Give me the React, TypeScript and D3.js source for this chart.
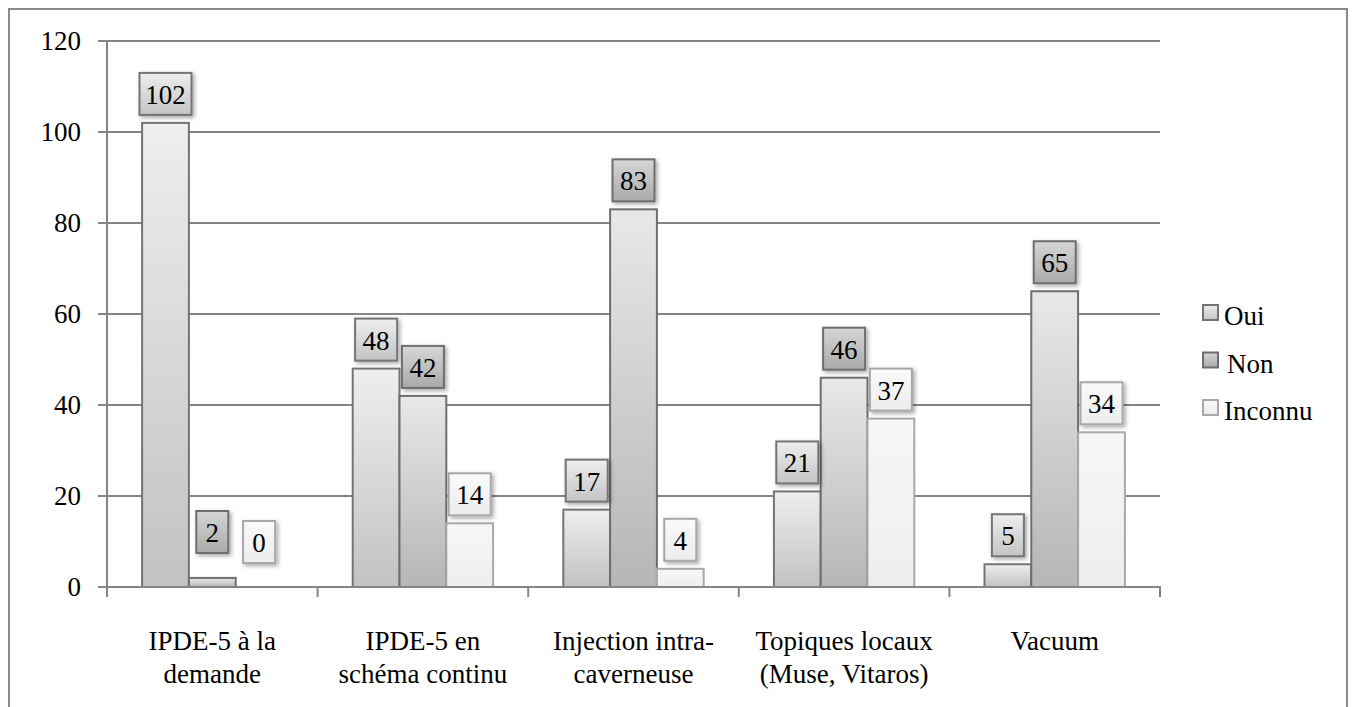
import React from 'react';
import * as d3 from 'd3';

const categories = [
  ['IPDE-5 à la', 'demande'],
  ['IPDE-5 en', 'schéma continu'],
  ['Injection intra-', 'caverneuse'],
  ['Topiques locaux', '(Muse, Vitaros)'],
  ['Vacuum'],
];
const seriesNames = ['Oui', 'Non', 'Inconnu'];
const oui = [102, 48, 17, 21, 5];
const non = [2, 42, 83, 46, 65];
const inconnu = [0, 14, 4, 37, 34];
const yTicks = [0, 20, 40, 60, 80, 100, 120];

const W = 1354;
const H = 707;
const FONT = '"Liberation Serif", "DejaVu Serif", "Noto Serif", Tinos, "Nimbus Roman", "Nimbus Roman No9 L", FreeSerif, Times, "Times New Roman", serif';

// per series: bar gradient, label gradient, stroke
const looks = {
  Oui: { bar: ['#eeeeee', '#c2c2c2'], lab: ['#eeeeee', '#c4c4c4'], stroke: '#747474' },
  Non: { bar: ['#e8e8e8', '#b6b6b6'], lab: ['#d6d6d6', '#a9a9a9'], stroke: '#6e6e6e' },
  Inconnu: { bar: ['#f7f7f7', '#eeeeee'], lab: ['#fbfbfb', '#ececec'], stroke: '#a8a8a8' },
};

export default function App() {
  const values = [oui, non, inconnu];
  const y = d3.scaleLinear().domain([0, 120]).range([587, 41]);
  const x0 = d3.scaleBand<number>().domain(d3.range(categories.length)).range([107, 1160]);
  const x1 = d3.scaleBand<string>().domain(seriesNames).range([0, x0.bandwidth()]).paddingOuter(0.75);
  const bw = x1.bandwidth();
  const txtStyle = { fontFamily: FONT, fontSize: 27 };

  return (
    <svg width={W} height={H} style={{ position: 'absolute', left: 0, top: 0, background: '#fff' }}>
      <defs>
        {seriesNames.map((s, i) => (
          <React.Fragment key={s}>
            <linearGradient id={'bar' + i} x1="0" y1="0" x2="0" y2="1">
              <stop offset="0" stopColor={looks[s].bar[0]} />
              <stop offset="1" stopColor={looks[s].bar[1]} />
            </linearGradient>
            <linearGradient id={'lab' + i} x1="0" y1="0" x2="0" y2="1">
              <stop offset="0" stopColor={looks[s].lab[0]} />
              <stop offset="1" stopColor={looks[s].lab[1]} />
            </linearGradient>
          </React.Fragment>
        ))}
        <filter id="shadow" x="-30%" y="-30%" width="160%" height="160%">
          <feDropShadow dx="2" dy="2" stdDeviation="2" floodColor="#000" floodOpacity="0.35" />
        </filter>
      </defs>

      <rect x={9} y={9} width={1338} height={720} fill="none" stroke="#8a8a8a" strokeWidth={2} />

      {/* gridlines + y ticks */}
      {yTicks.map(t => (
        <g key={t}>
          {t > 0 && <line x1={107} x2={1160} y1={y(t)} y2={y(t)} stroke="#858585" strokeWidth={2} />}
          <line x1={98} x2={107} y1={y(t)} y2={y(t)} stroke="#858585" strokeWidth={2} />
          <text x={81} y={y(t) + 9} textAnchor="end" style={txtStyle} fill="#000">{t}</text>
        </g>
      ))}
      <line x1={107} x2={107} y1={y(120)} y2={y(0)} stroke="#858585" strokeWidth={2} />

      {/* bars */}
      {categories.map((c, ci) => (
        <g key={ci} transform={`translate(${x0(ci)},0)`}>
          {seriesNames.map((s, si) => {
            const v = values[si][ci];
            return (
              <rect key={s} x={x1(s)} y={y(v)} width={bw} height={y(0) - y(v)}
                fill={`url(#bar${si})`} stroke={looks[s].stroke} strokeWidth={2} />
            );
          })}
        </g>
      ))}

      {/* x axis */}
      <line x1={98} x2={1161} y1={y(0)} y2={y(0)} stroke="#858585" strokeWidth={2} />
      {d3.range(categories.length + 1).map(i => {
        const xx = i < categories.length ? x0(i) : x0.range()[1];
        return <line key={i} x1={xx} x2={xx} y1={y(0)} y2={y(0) + 10} stroke="#858585" strokeWidth={2} />;
      })}

      {/* value labels */}
      {categories.map((c, ci) => (
        <g key={ci} transform={`translate(${x0(ci)},0)`}>
          {seriesNames.map((s, si) => {
            const v = values[si][ci];
            const txt = String(v);
            const w = txt.length * 10 + 22;
            const h = 42;
            const cx = x1(s) + bw / 2;
            // small bars get their label lifted off the axis
            const bottom = v > 0 && v < 4 ? y(0) - 34 : Math.min(y(v) - 8, y(0) - 24);
            return (
              <g key={s}>
                <rect x={cx - w / 2} y={bottom - h} width={w} height={h}
                  fill={`url(#lab${si})`} stroke={looks[s].stroke} strokeWidth={2} filter="url(#shadow)" />
                <text x={cx} y={bottom - h / 2 + 10} textAnchor="middle" style={txtStyle} fill="#000">{txt}</text>
              </g>
            );
          })}
        </g>
      ))}

      {/* category labels */}
      {categories.map((c, ci) => (
        <text key={ci} x={x0(ci) + x0.bandwidth() / 2} y={650} textAnchor="middle" style={txtStyle} fill="#000">
          {c.map((line, li) => (
            <tspan key={li} x={x0(ci) + x0.bandwidth() / 2} dy={li === 0 ? 0 : 33}>{line}</tspan>
          ))}
        </text>
      ))}

      {/* legend */}
      {seriesNames.map((s, si) => (
        <g key={s} transform={`translate(1203,${305 + si * 47.5})`}>
          <rect x={0} y={0} width={15} height={15} fill={`url(#lab${si})`} stroke={looks[s].stroke} strokeWidth={2} />
          <text x={21 + (si === 1 ? 3 : 0)} y={20} style={txtStyle} fill="#000">{s}</text>
        </g>
      ))}
    </svg>
  );
}
